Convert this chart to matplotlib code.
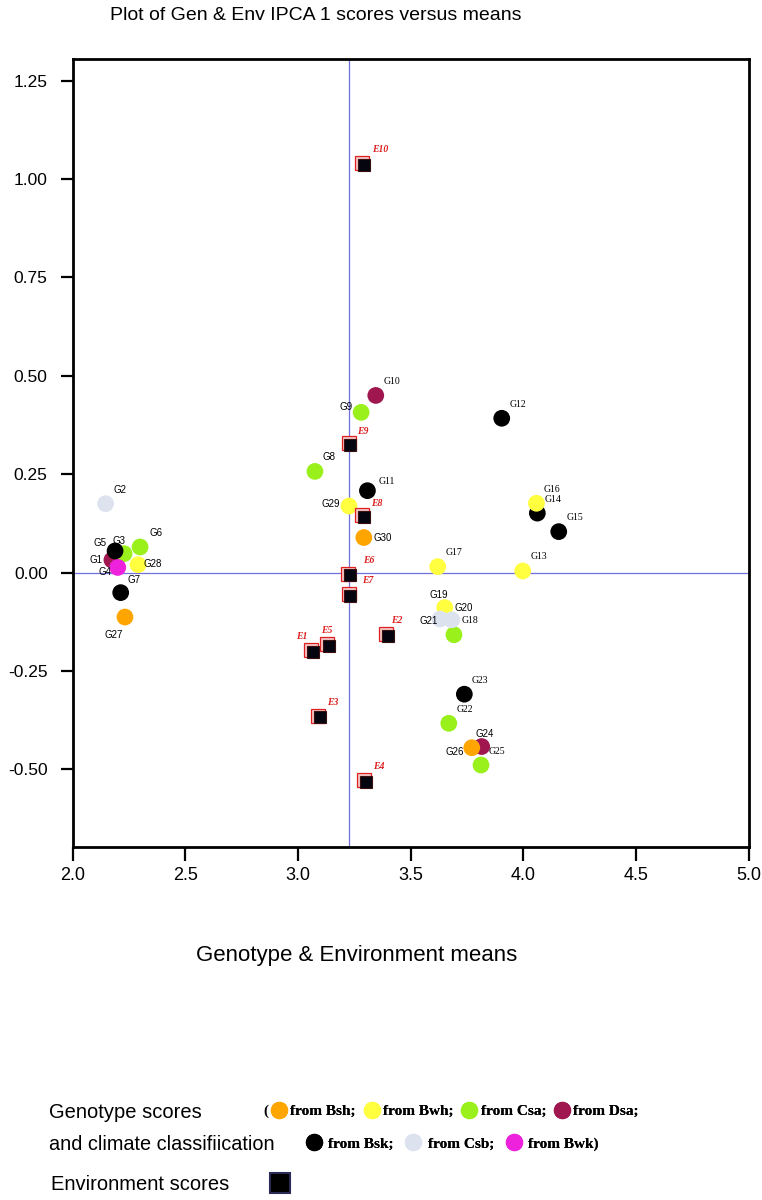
import matplotlib
matplotlib.use("Agg")
from matplotlib import pyplot as plt
from matplotlib.lines import Line2D
from matplotlib.transforms import offset_copy

# genotype scores: mean, IPCA1 and climate class of origin
gen_names = ["G%d" % i for i in range(1, 31)]
gen_mean = [2.174, 2.146, 2.228, 2.200, 2.188, 2.299, 2.213, 3.075, 3.280, 3.345,
            3.308, 3.904, 3.997, 4.062, 4.157, 4.058, 3.620, 3.692, 3.651, 3.682,
            3.630, 3.669, 3.738, 3.815, 3.812, 3.771, 2.232, 2.290, 3.226, 3.292]
gen_ipca = [0.032, 0.175, 0.048, 0.013, 0.055, 0.065, -0.051, 0.257, 0.407, 0.450,
            0.208, 0.392, 0.004, 0.151, 0.104, 0.176, 0.015, -0.158, -0.089, -0.120,
            -0.118, -0.383, -0.309, -0.442, -0.489, -0.445, -0.113, 0.020, 0.169, 0.089]
gen_climate = ["Dsa", "Csb", "Csa", "Bwk", "Bsk", "Csa", "Bsk", "Csa", "Csa", "Dsa",
               "Bsk", "Bsk", "Bwh", "Bsk", "Bsk", "Bwh", "Bwh", "Csa", "Bwh", "Csb",
               "Csb", "Csa", "Bsk", "Dsa", "Csa", "Bsh", "Bsh", "Bwh", "Bwh", "Bsh"]

# environment scores
env_names = ["E%d" % i for i in range(1, 11)]
env_mean = [3.063, 3.395, 3.093, 3.297, 3.134, 3.228, 3.229, 3.287, 3.229, 3.287]
env_ipca = [-0.199, -0.158, -0.366, -0.529, -0.184, -0.005, -0.057, 0.143, 0.327, 1.038]

grand_mean = 3.228

legend_row1 = ["Bsh", "Bwh", "Csa", "Dsa"]
legend_row2 = ["Bsk", "Csb", "Bwk"]

climate_colors = {"Bsh": "#ffa500", "Bwh": "#ffff40", "Csa": "#99f01a", "Dsa": "#a0174f",
                  "Bsk": "#000000", "Csb": "#dce3ef", "Bwk": "#ee22dd"}

# label offsets in pixels (dx, dy up), default is above right
default_off = (16, 14)
label_off = {"G1": (-16, 0), "G2": (14, 14), "G3": (-5, 13), "G4": (-13, -5), "G5": (-15, 8),
             "G7": (13, 13), "G27": (-11, -18), "G28": (15, 1), "G8": (14, 14), "G9": (-15, 5),
             "G11": (19, 9), "G29": (-18, 2), "G30": (19, 0), "G19": (-6, 13), "G20": (12, 12),
             "G21": (-11, -2), "G24": (3, 13), "G26": (-17, -4),
             "E9": (13, 12), "E8": (14, 13), "E6": (19, 14), "E7": (18, 14), "E1": (-10, 14),
             "E5": (-1, 14), "E2": (10, 14), "E3": (14, 14), "E4": (14, 14), "E10": (17, 14)}
serif_labels = {"G10", "G11", "G12", "G13", "G14", "G15", "G16", "G17", "G18",
                "G22", "G23", "G25"}

sans = ["Liberation Sans", "DejaVu Sans"]
serif = ["Liberation Serif", "DejaVu Serif"]

W, H = 762, 1200
fig = plt.figure(figsize=(W / 100, H / 100), dpi=100)
ax = fig.add_axes([72.7 / W, 1 - 847.3 / H, (748.7 - 72.7) / W, (847.3 - 59.3) / H])

ax.axvline(grand_mean, color="#6f6fe0", lw=0.9, zorder=1)
ax.axhline(0, color="#6f6fe0", lw=0.9, zorder=1)

# genotypes
cols = [climate_colors[c] for c in gen_climate]
ax.scatter(gen_mean, gen_ipca, s=145, c=cols, edgecolors="none", zorder=3)
for name, x, y in zip(gen_names, gen_mean, gen_ipca):
    dx, dy = label_off.get(name, default_off)
    ax.annotate(name, (x, y), xytext=(dx * 0.72, dy * 0.72), textcoords="offset points",
                ha="center", va="center", fontsize=7,
                family=serif if name in serif_labels else sans, zorder=5)

# environments: red outline with black square slightly offset
back = offset_copy(ax.transData, fig=fig, x=-1.0, y=1.0, units="dots")
front = offset_copy(ax.transData, fig=fig, x=0.8, y=-0.8, units="dots")
ax.plot(env_mean, env_ipca, "s", ms=10, mfc="#f4c8c8", mec="#e02020", mew=0.9,
        transform=back, zorder=4)
ax.plot(env_mean, env_ipca, "s", ms=8.8, mfc="#050510", mec="#3a1010", mew=0.8,
        transform=front, zorder=4)
for name, x, y in zip(env_names, env_mean, env_ipca):
    dx, dy = label_off.get(name, default_off)
    ax.annotate(name, (x, y), xytext=(dx * 0.72, dy * 0.72), textcoords="offset points",
                ha="center", va="center", fontsize=7, color="#dd1f1f",
                style="italic", weight="bold", family=serif, zorder=5)

ax.set_xlim(2, 5)
ax.set_ylim(-0.698, 1.304)
ax.set_xticks([2.0, 2.5, 3.0, 3.5, 4.0, 4.5, 5.0])
ax.set_yticks([-0.5, -0.25, 0, 0.25, 0.5, 0.75, 1.0, 1.25])
ax.set_yticklabels(["-0.50", "-0.25", "0.00", "0.25", "0.50", "0.75", "1.00", "1.25"],
                   family=sans, fontsize=12.5)
ax.set_xticklabels(["2.0", "2.5", "3.0", "3.5", "4.0", "4.5", "5.0"], family=sans, fontsize=13)
ax.tick_params(axis="y", direction="out", length=9, width=1.6, pad=9)
ax.tick_params(axis="x", direction="out", length=10, width=1.6, pad=4)
for sp in ax.spines.values():
    sp.set_linewidth(2)

fig.text(110 / W, 1 - 15 / H, "Plot of Gen & Env IPCA 1 scores versus means",
         family=sans, fontsize=14, ha="left", va="center")
fig.text(357 / W, 1 - 955 / H, "Genotype & Environment means",
         family=sans, fontsize=16, ha="center", va="center")

# legend block
fig.text(49 / W, 1 - 1113 / H, "Genotype scores", family=sans, fontsize=14.5, va="center")
fig.text(49 / W, 1 - 1144 / H, "and climate classifiication", family=sans, fontsize=14.3,
         va="center")
fig.text(263 / W, 1 - 1111 / H, "(", family=serif, weight="bold", fontsize=11, va="center")

lprop = {"family": serif, "weight": "bold", "size": 11}


def climate_handles(keys):
    return [Line2D([], [], marker="o", ls="none", ms=12.5, mfc=climate_colors[k], mec="none")
            for k in keys]


row1 = fig.legend(climate_handles(legend_row1), ["from %s;" % k for k in legend_row1],
                  ncol=4, frameon=False, prop=lprop, handlelength=0.9, handletextpad=0.3,
                  columnspacing=0.58, loc="center left",
                  bbox_to_anchor=(272 / W, 1 - 1111 / H), borderaxespad=0, borderpad=0)
fig.add_artist(row1)
labels2 = ["from %s;" % k for k in legend_row2]
labels2[-1] = "from %s)" % legend_row2[-1]
row2 = fig.legend(climate_handles(legend_row2), labels2, ncol=3, frameon=False, prop=lprop,
                  handlelength=0.9, handletextpad=0.5, columnspacing=0.83, loc="center left",
                  bbox_to_anchor=(307 / W, 1 - 1144 / H), borderaxespad=0, borderpad=0)
fig.add_artist(row2)

env_handle = Line2D([], [], marker="s", ls="none", ms=15, mfc="#000000", mec="#2a2a55", mew=1.5)
fig.legend([env_handle], ["Environment scores"], frameon=False, markerfirst=False,
           prop={"family": sans, "size": 14.5}, handlelength=1.0, handletextpad=2.0,
           loc="center left", bbox_to_anchor=(51 / W, 1 - 1185 / H), borderaxespad=0,
           borderpad=0)

fig.savefig("out.png", dpi=100)
